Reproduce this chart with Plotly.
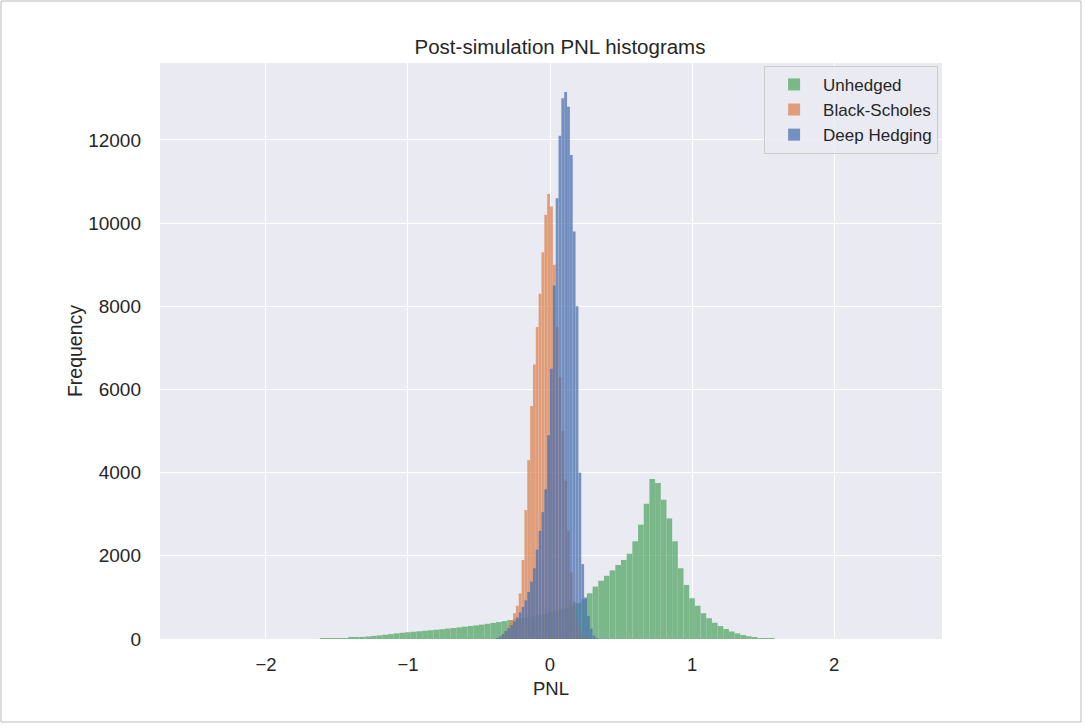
import numpy as np
import plotly.graph_objects as go

# ---------------- data ----------------
series_names = ["Unhedged", "Black-Scholes", "Deep Hedging"]

# Unhedged: bin centres every 0.04 from -1.60 to 1.56
unhedged_start, unhedged_width = -1.60, 0.04
unhedged_counts = [
    6, 9, 13, 17, 22, 30, 40, 50, 62, 75,
    88, 102, 118, 135, 150, 162, 174, 186, 198, 210,
    222, 235, 250, 264, 280, 296, 312, 328, 346, 366,
    388, 408, 430, 455, 476, 498, 520, 546, 574, 604,
    638, 676, 716, 760, 810, 865, 960, 1100, 1260, 1400,
    1520, 1650, 1780, 1900, 2050, 2350, 2750, 3250, 3850, 3750,
    3350, 2900, 2350, 1700, 1300, 980, 800, 620, 500, 390,
    310, 240, 180, 135, 95, 65, 40, 22, 10, 4,
]

# Black-Scholes: bin centres every 0.02 from -0.33
bs_start, bs_width = -0.33, 0.02
bs_counts = [
    100, 200, 330, 450, 620, 800, 1100, 1900, 3100, 4300,
    5600, 6600, 7500, 8300, 9300, 10200, 10700, 10400, 9000, 7500,
    6300, 5000, 3800, 2600, 1600, 900, 450, 200, 80,
]

# Deep Hedging: bin centres every 0.02 from -0.37
dh_start, dh_width = -0.37, 0.02
dh_counts = [
    20, 60, 120, 190, 260, 330, 420, 520, 640, 770,
    930, 1130, 1380, 1700, 2150, 2600, 3050, 3600, 4900, 6500,
    8500, 10600, 12100, 13000, 13150, 12800, 11640, 9800, 8000, 4000,
    1800, 1000, 550, 250, 80, 20,
]

x_tick_vals = [-2, -1, 0, 1, 2]
y_tick_vals = [0, 2000, 4000, 6000, 8000, 10000, 12000]

title_text = "Post-simulation PNL histograms"
x_title = "PNL"
y_title = "Frequency"

# ---------------- figure ----------------
colors = ["#55A868", "#DD8452", "#4C72B0"]
starts = [unhedged_start, bs_start, dh_start]
widths = [unhedged_width, bs_width, dh_width]
counts = [unhedged_counts, bs_counts, dh_counts]

fig = go.Figure()
for name, st, w, c, col in zip(series_names, starts, widths, counts, colors):
    centres = st + w * np.arange(len(c))
    fig.add_trace(go.Bar(
        x=centres, y=c, width=w, name=name,
        marker=dict(color=col, line=dict(width=0)),
        opacity=0.75,
    ))

FONT = "Liberation Sans, Arial, sans-serif"
TXT = "#262626"

W, H = 1085, 728
L, R, T, B = 160, 143, 63, 89
pw, ph = W - L - R, H - T - B

fig.update_layout(
    width=W, height=H,
    margin=dict(l=L, r=R, t=T, b=B, pad=0),
    barmode="overlay",
    paper_bgcolor="white",
    plot_bgcolor="#EAEAF2",
    font=dict(family=FONT, size=17, color=TXT),
    title=dict(text=title_text, x=560 / W, xanchor="center",
               y=1 - 47 / H, yanchor="middle",
               font=dict(family=FONT, size=20.5, color=TXT)),
    showlegend=True,
    legend=dict(
        x=0.995, y=0.995, xanchor="right", yanchor="top",
        bgcolor="rgba(234,234,242,0.8)", bordercolor="#cccccc", borderwidth=1,
        font=dict(family=FONT, size=17, color=TXT),
        traceorder="normal", tracegroupgap=0, itemwidth=48,
    ),
    xaxis=dict(
        range=[-2.746, 2.76], tickvals=x_tick_vals,
        showgrid=True, gridcolor="white", gridwidth=1.3,
        zeroline=False, showline=False, ticks="",
        ticklabelstandoff=12,
        tickfont=dict(family=FONT, size=18.5, color=TXT),
        title=dict(text=x_title, standoff=8,
                   font=dict(family=FONT, size=18.5, color=TXT)),
    ),
    yaxis=dict(
        range=[0, 13850], tickvals=y_tick_vals, tickformat="d",
        showgrid=True, gridcolor="white", gridwidth=1.3,
        zeroline=False, showline=False, ticks="",
        ticklabelstandoff=18,
        tickfont=dict(family=FONT, size=19, color=TXT),
        title=dict(text=y_title, standoff=0,
                   font=dict(family=FONT, size=19.5, color=TXT)),
    ),
)

# thin grey frame around the whole image
fig.add_shape(
    type="rect", xref="paper", yref="paper",
    x0=(1 - L) / pw, x1=(1081 - L) / pw,
    y0=(T + ph - 722) / ph, y1=(T + ph - 1) / ph,
    line=dict(color="#BBBBBB", width=1), fillcolor="rgba(0,0,0,0)",
    layer="below",
)

fig.write_html("out.html", config={"displayModeBar": False},
               post_script="document.body.style.margin='0';")
